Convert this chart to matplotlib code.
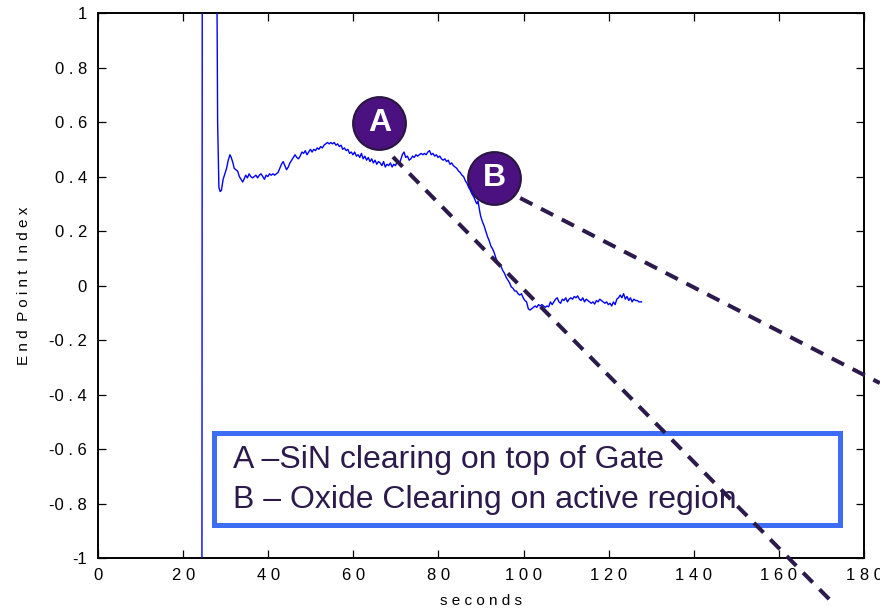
import matplotlib
matplotlib.use('Agg')
import matplotlib.pyplot as plt
from matplotlib import font_manager
from matplotlib.patches import Rectangle

# signal trace
t = [24.4, 24.5, 27.8, 28.1, 28.4, 28.7, 29.0, 29.4, 29.8, 30.2, 30.6, 31.0, 31.3, 31.7,
     32.0, 32.4, 32.8, 33.2, 33.6, 34.0, 34.3, 34.7, 35.1, 35.5, 35.9, 36.3, 36.7, 37.1,
     37.5, 37.9, 38.3, 38.7, 39.1, 39.5, 39.9, 40.3, 40.7, 41.1, 41.5, 41.9, 42.3, 42.7,
     43.1, 43.5, 43.9, 44.3, 44.7, 45.1, 45.5, 45.9, 46.3, 46.7, 47.1, 47.5, 47.9, 48.3,
     48.7, 49.1, 49.5, 49.9, 50.3, 50.7, 51.1, 51.5, 51.9, 52.3, 52.7, 53.1, 53.5, 53.9,
     54.3, 54.7, 55.1, 55.5, 55.9, 56.3, 56.7, 57.1, 57.5, 57.9, 58.3, 58.7, 59.1, 59.5,
     59.9, 60.3, 60.7, 61.1, 61.5, 61.9, 62.3, 62.7, 63.1, 63.5, 63.9, 64.3, 64.7, 65.1,
     65.5, 65.9, 66.3, 66.7, 67.1, 67.5, 67.9, 68.3, 68.7, 69.1, 69.5, 69.9, 70.3, 70.7,
     71.1, 71.5, 71.9, 72.3, 72.7, 73.1, 73.5, 73.9, 74.3, 74.7, 75.1, 75.5, 75.9, 76.3,
     76.7, 77.1, 77.5, 77.9, 78.3, 78.7, 79.1, 79.5, 79.9, 80.3, 80.7, 81.1, 81.5, 81.9,
     82.3, 82.7, 83.1, 83.5, 83.9, 84.3, 84.7, 85.1, 85.5, 85.9, 86.3, 86.7, 87.1, 87.5,
     87.9, 88.3, 88.7, 89.0, 89.3, 89.6, 89.9, 90.3, 90.7, 91.1, 91.5, 91.9, 92.3, 92.7,
     93.1, 93.5, 93.9, 94.3, 94.7, 95.1, 95.5, 95.9, 96.3, 96.7, 97.1, 97.5, 97.9, 98.3,
     98.7, 99.1, 99.5, 99.9, 100.3, 100.7, 101.1, 101.5, 101.9, 102.3, 102.7, 103.1, 103.5,
     103.9, 104.3, 104.7, 105.1, 105.5, 105.9, 106.3, 106.7, 107.1, 107.5, 107.9, 108.3,
     108.7, 109.1, 109.5, 109.9, 110.3, 110.7, 111.1, 111.5, 111.9, 112.3, 112.7, 113.1,
     113.5, 113.9, 114.3, 114.7, 115.1, 115.5, 115.9, 116.3, 116.7, 117.1, 117.5, 117.9,
     118.3, 118.7, 119.1, 119.5, 119.9, 120.3, 120.7, 121.1, 121.5, 121.9, 122.3, 122.7,
     123.1, 123.5, 123.9, 124.3, 124.7, 125.1, 125.5, 125.9, 126.3, 126.7, 127.1, 127.7]
epi = [-1.5, 1.5, 1.5, 0.6, 0.36, 0.345, 0.35, 0.39, 0.41, 0.43, 0.46, 0.48, 0.47, 0.45,
       0.43, 0.425, 0.42, 0.40, 0.39, 0.38, 0.39, 0.405, 0.395, 0.41, 0.40, 0.395, 0.40, 0.405,
       0.395, 0.405, 0.41, 0.40, 0.39, 0.405, 0.40, 0.41, 0.405, 0.41, 0.405, 0.41, 0.415, 0.43,
       0.445, 0.455, 0.44, 0.425, 0.435, 0.45, 0.46, 0.47, 0.48, 0.47, 0.465, 0.475, 0.49, 0.485,
       0.495, 0.48, 0.49, 0.50, 0.49, 0.50, 0.495, 0.505, 0.50, 0.51, 0.505, 0.515, 0.52, 0.525,
       0.52, 0.525, 0.52, 0.525, 0.515, 0.52, 0.51, 0.515, 0.50, 0.505, 0.495, 0.50, 0.485, 0.49,
       0.48, 0.49, 0.475, 0.48, 0.47, 0.485, 0.465, 0.475, 0.46, 0.47, 0.455, 0.465, 0.45, 0.46,
       0.445, 0.455, 0.45, 0.44, 0.455, 0.435, 0.445, 0.44, 0.45, 0.435, 0.445, 0.44, 0.455, 0.445,
       0.46, 0.48, 0.49, 0.47, 0.475, 0.46, 0.465, 0.475, 0.47, 0.48, 0.475, 0.48, 0.485, 0.48,
       0.485, 0.48, 0.49, 0.495, 0.48, 0.485, 0.475, 0.48, 0.47, 0.475, 0.465, 0.46, 0.465, 0.455,
       0.46, 0.445, 0.45, 0.44, 0.435, 0.43, 0.42, 0.415, 0.405, 0.40, 0.385, 0.375, 0.36, 0.35,
       0.335, 0.325, 0.31, 0.30, 0.31, 0.28, 0.255, 0.235, 0.22, 0.20, 0.18, 0.165, 0.145, 0.135,
       0.12, 0.10, 0.085, 0.075, 0.07, 0.055, 0.045, 0.03, 0.02, 0.01, -0.005, -0.01, -0.02, -0.02,
       -0.03, -0.035, -0.03, -0.045, -0.055, -0.06, -0.085, -0.09, -0.085, -0.08, -0.075, -0.08, -0.07,
       -0.075, -0.07, -0.075, -0.08, -0.075, -0.078, -0.06, -0.07, -0.06, -0.05, -0.045, -0.06,
       -0.065, -0.05, -0.055, -0.045, -0.06, -0.05, -0.045, -0.05, -0.04, -0.045, -0.038, -0.05,
       -0.055, -0.045, -0.06, -0.05, -0.055, -0.06, -0.065, -0.06, -0.068, -0.055, -0.06, -0.05,
       -0.055, -0.06, -0.065, -0.06, -0.07, -0.065, -0.075, -0.06, -0.07, -0.05, -0.045, -0.035,
       -0.045, -0.03, -0.05, -0.04, -0.055, -0.045, -0.06, -0.05, -0.055, -0.055, -0.06, -0.06]

# annotation markers and the tangent lines drawn from them
mark_labels = ['A', 'B']
mark_t = [66.1, 93.1]
mark_v = [0.596, 0.393]
lineA_t = [69.3, 173.2]
lineA_v = [0.472, -1.173]
lineB_t = [99.2, 183.7]
lineB_v = [0.321, -0.358]

note_lines = ['A \u2013SiN clearing on top of Gate', 'B \u2013 Oxide Clearing on active region']

xticks = [0, 20, 40, 60, 80, 100, 120, 140, 160, 180]
yticks = [-1, -0.8, -0.6, -0.4, -0.2, 0, 0.2, 0.4, 0.6, 0.8, 1]


def spaced(s):
    out = ''
    for i, ch in enumerate(s):
        out += ch
        if i < len(s) - 1 and ch != '-':
            out += ' '
    return out


names = set(f.name for f in font_manager.fontManager.ttflist)
tick_font = 'Liberation Sans Narrow' if 'Liberation Sans Narrow' in names else 'Liberation Sans'
plt.rcParams['font.family'] = ['Liberation Sans', 'DejaVu Sans']

dark = '#2b1a4b'
fig = plt.figure(figsize=(8.8, 6.1), dpi=100)
ax = fig.add_axes([0.1114, 0.0852, 0.8705, 0.8934])

ax.plot(t, epi, color='#0000ff', lw=1.0, zorder=5)

ax.set_xlim(0, 180)
ax.set_ylim(-1, 1)
ax.set_xticks(xticks)
ax.set_yticks(yticks)
ax.set_xticklabels([spaced(str(v)) for v in xticks], family=tick_font, fontsize=12)
ax.set_yticklabels([spaced('%g' % v) for v in yticks], family=tick_font, fontsize=12)
ax.tick_params(direction='in', length=6, width=0.9, top=True, right=True)
ax.tick_params(axis='x', pad=7)
ax.tick_params(axis='y', pad=8)
for s in ax.spines.values():
    s.set_linewidth(1.4)

ax.set_xlabel('s e c o n d s', family=tick_font, fontsize=11, labelpad=8)
ax.set_ylabel('E n d  P o i n t  I n d e x', family=tick_font, fontsize=11, labelpad=13)

# note box
ax.add_patch(Rectangle((27.3, -0.879), 147.0, 0.338, fill=False, edgecolor='#3d6cf5',
                       lw=3.6, zorder=3, clip_on=False))
ax.text(31.7, -0.670, note_lines[0], fontsize=23, color=dark, va='baseline', zorder=4)
ax.text(31.7, -0.817, note_lines[1], fontsize=23, color=dark, va='baseline', zorder=4)

# dashed tangent lines
ax.plot(lineA_t, lineA_v, color=dark, lw=2.9, ls=(0, (3.4, 2.4)), zorder=6, clip_on=False)
ax.plot(lineB_t, lineB_v, color=dark, lw=2.9, ls=(0, (3.4, 2.4)), zorder=6, clip_on=False)

# circled letters
ax.plot(mark_t, mark_v, 'o', ms=38, mfc='#4b1180', mec='#2a1740', mew=1.5, zorder=4,
        clip_on=False)
for lab, mt, mv in zip(mark_labels, mark_t, mark_v):
    ax.text(mt, mv, lab, fontsize=23, fontweight='bold', color='white', ha='center',
            va='center', zorder=7)

fig.savefig('out.png', dpi=100)
